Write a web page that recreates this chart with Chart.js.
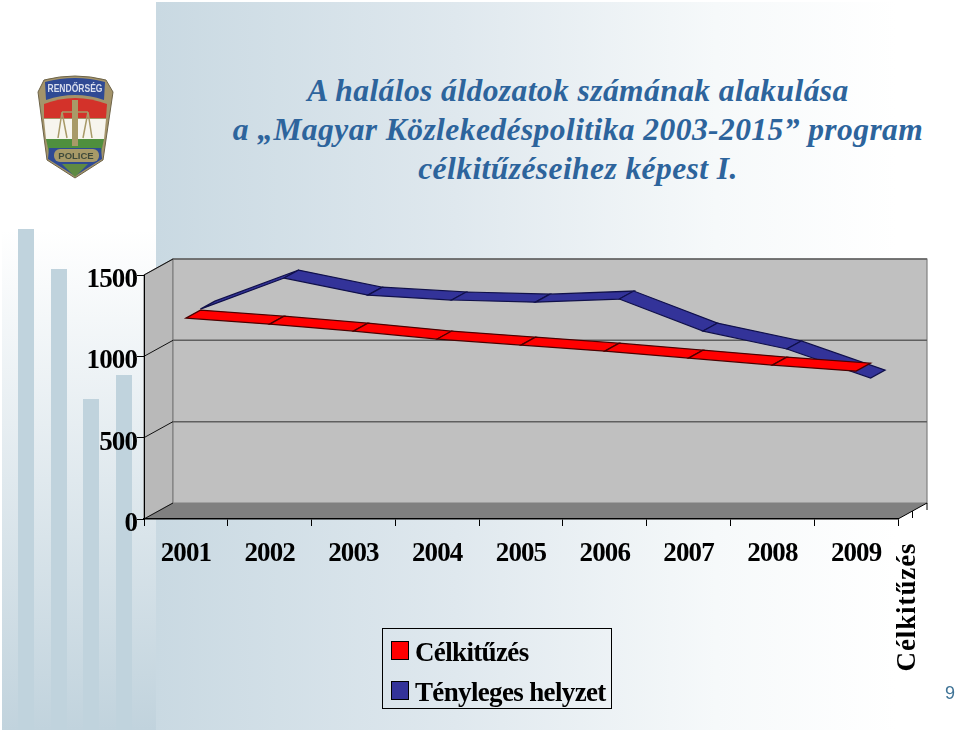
<!DOCTYPE html>
<html lang="hu">
<head>
<meta charset="utf-8">
<title>A halálos áldozatok számának alakulása</title>
<script src="https://cdn.jsdelivr.net/npm/chart.js@4"></script>
<style>
    html, body { margin: 0; padding: 0; background: #fff; }
    #page { position: relative; width: 960px; height: 732px; overflow: hidden; background: #fff; }
    #sidePanel { position: absolute; left: 2px; top: 0; width: 154px; height: 730px;
        background: linear-gradient(to bottom, #fff 0, #fff 230px, #c1d3dd 730px); }
    .sideBar { position: absolute; width: 16px; bottom: 0; background: #c0d3dd; }
    #mainPanel { position: absolute; left: 156px; top: 2px; width: 804px; height: 728px;
        background: linear-gradient(to right, #c9d9e2 0, #dfe8ee 300px, #f6f9fa 560px, #fff 740px); }
    #title { position: absolute; left: 178px; top: 71px; width: 800px; text-align: center;
        font: italic bold 31.5px/39px "Liberation Serif", serif; letter-spacing: 0.43px; color: #2d649c; }
    canvas { position: absolute; left: 0; top: 0; }
    #legend { position: absolute; left: 382px; top: 628px; width: 228px; height: 79px; border: 1px solid #000;
        font: bold 27px "Liberation Serif", serif; color: #000; }
    #legend div { position: absolute; left: 32px; white-space: nowrap; line-height: 30px; letter-spacing: -0.65px; }
    #legend span { position: absolute; left: -24px; top: 4px; width: 16px; height: 17px; border: 1px solid #000; }
    #depthLabel { position: absolute; left: 906px; top: 607px; transform: translate(-50%, -50%) rotate(-90deg);
        font: bold 27px "Liberation Serif", serif; letter-spacing: 0.9px; white-space: nowrap; color: #000; }
    #pageNo { position: absolute; left: 945px; top: 683px; font: 18px "Liberation Sans", sans-serif; color: #3f7396; }
    #badge { position: absolute; left: 0; top: 0; filter: blur(0.4px); }
</style>
</head>
<body>
<div id="page">
    <div id="sidePanel">
        <div class="sideBar" style="left:16px;top:229px"></div>
        <div class="sideBar" style="left:49px;top:269px"></div>
        <div class="sideBar" style="left:81px;top:399px"></div>
        <div class="sideBar" style="left:114px;top:375px"></div>
    </div>
    <div id="mainPanel"></div>

    <svg id="badge" width="160" height="200" viewBox="0 0 160 200">
        <path d="M38 92 L44 80 Q75 72 106 80 L113 92 L103 160 L75 178 L47 160 Z" fill="#a4946a" stroke="#6d6348"/>
        <path d="M45 82 Q75 74 105 82 L104 100 Q75 90 46 100 Z" fill="#2f4a94"/>
        <path d="M44 104 Q75 92 107 104 L106 118 L44 118 Z" fill="#d3322a"/>
        <path d="M44 119 H106 L104 139 H46 Z" fill="#f7f5ee"/>
        <path d="M46 139 H104 L101 153 H49 Z" fill="#4f8f3e"/>
        <path d="M49 148 L48 159 L75 176 L102 159 L101 148 Z" fill="#2f4a94"/>
        <path d="M75 177 L62 164 H88 Z" fill="#5f8a42"/>
        <rect x="72" y="100" width="6" height="46" fill="#a89a68"/>
        <path d="M62 112 H88 M62 112 L58 138 M62 112 L67 138 M88 112 L83 138 M88 112 L92 138" stroke="#a89a68" stroke-width="1.5" fill="none"/>
        <rect x="54" y="149" width="45" height="13" rx="6" fill="#a89a68"/>
        <text x="76" y="159" text-anchor="middle" font-family="Liberation Sans" font-weight="bold" font-size="9.5" fill="#3f4a3a">POLICE</text>
        <text x="75" y="92" text-anchor="middle" font-family="Liberation Sans" font-weight="bold" font-size="10" textLength="55" lengthAdjust="spacingAndGlyphs" fill="#d9dfee">RENDŐRSÉG</text>
    </svg>

    <div id="title">A halálos áldozatok számának alakulása<br>a „Magyar Közlekedéspolitika 2003-2015” program<br>célkitűzéseihez képest I.</div>

    <canvas id="deathsChart" width="960" height="732"></canvas>

    <div id="legend"></div>
    <div id="depthLabel">Célkitűzés</div>
    <div id="pageNo">9</div>
</div>

<script>
// Values
const years = ['2001', '2002', '2003', '2004', '2005', '2006', '2007', '2008', '2009'];
const targetValues = [1235, 1198, 1155, 1106, 1069, 1032, 989, 946, 909];
const actualValues = [1241, 1432, 1327, 1297, 1284, 1303, 1106, 996, 817];

const seriesNames = ['Célkitűzés', 'Tényleges helyzet'];
const seriesColors = ['#ff0000', '#333399'];

// How far the back wall is pushed away from the front axes
const depthX = 29;
const depthY = -16;

function polygon(ctx, pts, fill, stroke) {
    ctx.beginPath();
    pts.forEach(function (p, i) {
        if (i === 0) ctx.moveTo(p[0], p[1]);
        else ctx.lineTo(p[0], p[1]);
    });
    ctx.closePath();
    ctx.fillStyle = fill;
    ctx.fill();
    if (stroke) {
        ctx.strokeStyle = stroke;
        ctx.lineWidth = 1.2;
        ctx.stroke();
    }
}

// Excel style 3D box: side wall, back wall, floor and gridlines
const boxPlugin = {
    id: 'box3d',
    beforeDraw: function (chart) {
        const ctx = chart.ctx;
        const a = chart.chartArea;
        const y = chart.scales.y;
        // tick labels in the picture are tall and tight
        ctx.letterSpacing = '-0.9px';
        ctx.save();
        polygon(ctx, [[a.left, a.bottom], [a.left, a.top], [a.left + depthX, a.top + depthY], [a.left + depthX, a.bottom + depthY]], '#b9b9b9', '#808080');
        polygon(ctx, [[a.left + depthX, a.top + depthY], [a.right + depthX, a.top + depthY], [a.right + depthX, a.bottom + depthY], [a.left + depthX, a.bottom + depthY]], '#c0c0c0', '#808080');
        polygon(ctx, [[a.left, a.bottom], [a.left + depthX, a.bottom + depthY], [a.right + depthX, a.bottom + depthY], [a.right, a.bottom]], '#808080');
        y.ticks.forEach(function (t) {
            const py = y.getPixelForValue(t.value);
            if (t.value > 0) {
                ctx.strokeStyle = '#5f5f5f';
                ctx.lineWidth = 1.5;
                ctx.beginPath();
                ctx.moveTo(a.left + depthX, py + depthY);
                ctx.lineTo(a.right + depthX, py + depthY);
                ctx.stroke();
            }
            ctx.strokeStyle = '#111';
            ctx.lineWidth = 1;
            ctx.beginPath();
            ctx.moveTo(a.left, py);
            ctx.lineTo(a.left + depthX, py + depthY);
            ctx.stroke();
        });
        // depth axis on the right with its two ticks
        ctx.strokeStyle = '#000';
        ctx.beginPath();
        ctx.moveTo(a.right, a.bottom);
        ctx.lineTo(a.right + depthX, a.bottom + depthY);
        ctx.moveTo(a.right + depthX / 2, a.bottom + depthY / 2);
        ctx.lineTo(a.right + depthX / 2, a.bottom + depthY / 2 + 7);
        ctx.moveTo(a.right + depthX, a.bottom + depthY);
        ctx.lineTo(a.right + depthX, a.bottom + depthY + 7);
        ctx.stroke();
        ctx.restore();
    }
};

// Each series is a ribbon in its own depth slot, the rear one goes first
const ribbonPlugin = {
    id: 'ribbon3d',
    afterDatasetsDraw: function (chart) {
        const ctx = chart.ctx;
        ctx.save();
        for (let d = chart.data.datasets.length - 1; d >= 0; d--) {
            const pts = chart.getDatasetMeta(d).data;
            const f0 = d / 2;
            const f1 = (d + 1) / 2;
            for (let i = 0; i < pts.length - 1; i++) {
                polygon(ctx, [
                    [pts[i].x + depthX * f0, pts[i].y + depthY * f0],
                    [pts[i + 1].x + depthX * f0, pts[i + 1].y + depthY * f0],
                    [pts[i + 1].x + depthX * f1, pts[i + 1].y + depthY * f1],
                    [pts[i].x + depthX * f1, pts[i].y + depthY * f1]
                ], seriesColors[d], d === 0 ? '#4a0000' : '#10104a');
            }
        }
        ctx.restore();
    }
};

const tickFont = { family: '"Liberation Serif", serif', size: 27, weight: 'bold' };

const chart = new Chart(document.getElementById('deathsChart').getContext('2d'), {
    type: 'line',
    data: {
        labels: years,
        datasets: [
            { label: seriesNames[0], data: targetValues, showLine: false, pointRadius: 0 },
            { label: seriesNames[1], data: actualValues, showLine: false, pointRadius: 0 }
        ]
    },
    options: {
        responsive: false,
        animation: false,
        layout: { padding: { left: 44, right: 62, top: 275, bottom: 153 } },
        plugins: { legend: { display: false }, title: { display: false }, tooltip: { enabled: false } },
        scales: {
            x: {
                offset: true,
                afterFit: function (scale) { scale.height = 60; },
                border: { color: '#000', width: 1.5 },
                grid: { offset: true, drawOnChartArea: false, color: '#000', tickLength: 7 },
                ticks: { color: '#000', font: tickFont, padding: 12, maxRotation: 0, autoSkip: false }
            },
            y: {
                min: 0,
                max: 1500,
                afterFit: function (scale) { scale.width = 100; },
                border: { color: '#000', width: 1 },
                grid: { drawOnChartArea: false, color: '#000', tickLength: 7 },
                ticks: {
                    color: '#000',
                    font: tickFont,
                    stepSize: 500,
                    padding: 0,
                    labelOffset: 5,
                    callback: function (value) { return String(value); }
                }
            }
        }
    },
    plugins: [boxPlugin, ribbonPlugin]
});

// Legend box built from the chart's datasets
const legend = document.getElementById('legend');
chart.data.datasets.forEach(function (ds, i) {
    const row = document.createElement('div');
    row.style.top = (8 + i * 40) + 'px';
    row.textContent = ds.label;
    const swatch = document.createElement('span');
    swatch.style.background = seriesColors[i];
    row.appendChild(swatch);
    legend.appendChild(row);
});
</script>
</body>
</html>
